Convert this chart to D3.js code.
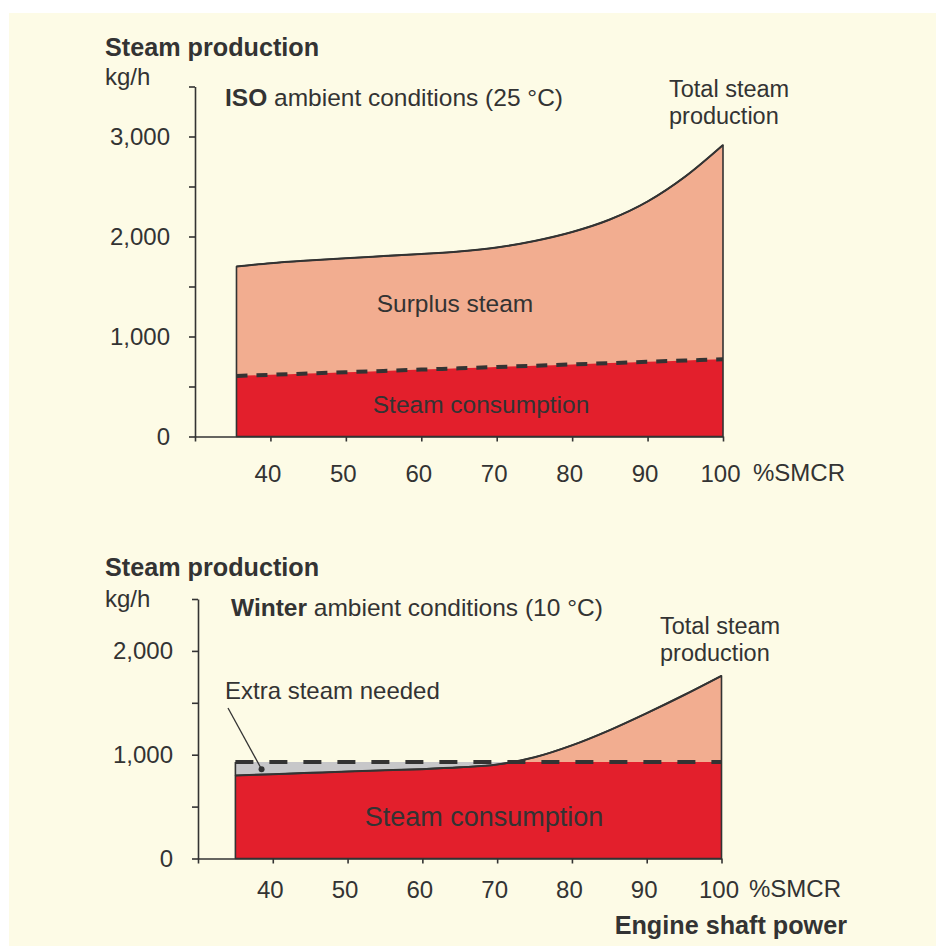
<!DOCTYPE html>
<html>
<head>
<meta charset="utf-8">
<script src="https://cdn.jsdelivr.net/npm/d3@7"></script>
<style>
  html, body { margin: 0; padding: 0; background: #fff; }
  svg { display: block; }
  text { font-family: "Liberation Sans", Arial, sans-serif; fill: #333; }
</style>
</head>
<body>
<svg id="chart" width="936" height="947"></svg>
<script>
// ---------- DATA ----------
const xTickValues = [30, 40, 50, 60, 70, 80, 90, 100];
const isoYTicks = [0, 500, 1000, 1500, 2000, 2500, 3000, 3500];
const winterYTicks = [0, 500, 1000, 1500, 2000, 2500];

const isoLoad = [35.5, 40, 45, 50, 55, 60, 65, 70, 75, 80, 85, 90, 95, 100];
const isoTotal = [1700, 1733, 1760, 1783, 1804, 1825, 1850, 1890, 1955, 2045, 2170, 2350, 2600, 2915];
const isoConsumption = [605, 617, 630, 643, 656, 669, 682, 695, 708, 721, 734, 747, 760, 772];

const winterLoad = [35, 40, 45, 50, 55, 60, 65, 70, 75, 80, 85, 90, 95, 100];
const winterTotal = [800, 812, 825, 838, 850, 861, 878, 905, 975, 1090, 1235, 1400, 1575, 1760];
const winterConsumption = [930, 930, 930, 930, 930, 930, 930, 930, 930, 930, 930, 930, 930, 930];

const extraSteamPoint = { load: 38.5, value: 860 };

// ---------- STYLE ----------
const C = {
  bg: "#FDFBE6",
  salmon: "#F2AD90",
  red: "#E31F2C",
  grey: "#C7C7C9",
  ink: "#333333"
};
const FONT = "'Liberation Sans', Arial, sans-serif";

const svg = d3.select("#chart");
svg.append("rect").attr("x", 9).attr("y", 13).attr("width", 927).attr("height", 933).attr("fill", C.bg);

function panel(opts) {
  const { id, load, total, cons, x, y, yTicks, dash, labelBaseline } = opts;
  const g = svg.append("g");
  const rows = load.map((l, i) => ({ load: l, total: total[i], cons: cons[i] }));

  const areaTotal = d3.area().curve(d3.curveMonotoneX)
    .x(d => x(d.load)).y0(y(0)).y1(d => y(d.total));
  const areaCons = d3.area().curve(d3.curveMonotoneX)
    .x(d => x(d.load)).y0(y(0)).y1(d => y(d.cons));
  const lineTotal = d3.line().curve(d3.curveMonotoneX)
    .x(d => x(d.load)).y(d => y(d.total));
  const lineCons = d3.line().curve(d3.curveMonotoneX)
    .x(d => x(d.load)).y(d => y(d.cons));

  g.append("clipPath").attr("id", id + "-clip")
    .append("path").attr("d", areaTotal(rows));

  g.append("path").attr("d", areaCons(rows)).attr("fill", C.grey);
  g.append("path").attr("d", areaTotal(rows)).attr("fill", C.salmon);
  g.append("path").attr("d", areaCons(rows)).attr("fill", C.red)
    .attr("clip-path", `url(#${id}-clip)`);

  g.append("path").attr("d", areaTotal(rows)).attr("fill", "none")
    .attr("stroke", C.ink).attr("stroke-width", 1.6).attr("stroke-linejoin", "round");
  const first = rows[0];
  if (first.cons > first.total) {
    g.append("line")
      .attr("x1", x(first.load)).attr("x2", x(first.load))
      .attr("y1", y(first.total)).attr("y2", y(first.cons))
      .attr("stroke", C.ink).attr("stroke-width", 1.6);
  }
  g.append("path").attr("d", lineTotal(rows)).attr("fill", "none")
    .attr("stroke", C.ink).attr("stroke-width", 2);
  g.append("path").attr("d", lineCons(rows)).attr("fill", "none")
    .attr("stroke", C.ink).attr("stroke-width", 4).attr("stroke-dasharray", dash);

  const xAxis = d3.axisBottom(x).tickValues(xTickValues).tickSize(5).tickSizeOuter(0)
    .tickFormat(d => d === 30 ? "" : d);
  const gx = g.append("g").attr("transform", `translate(0,${y(0)})`).call(xAxis);
  gx.selectAll("text").attr("y", labelBaseline).attr("dy", 0).attr("dx", -3)
    .style("font-family", FONT).style("font-size", "24px").attr("fill", C.ink);

  const yAxis = d3.axisLeft(y).tickValues(yTicks).tickSize(6).tickSizeOuter(0).tickPadding(19)
    .tickFormat(d => d % 1000 === 0 ? d3.format(",")(d) : "");
  const gy = g.append("g").attr("transform", `translate(${x(30)},0)`).call(yAxis);
  gy.selectAll("text").attr("dy", "0.33em")
    .style("font-family", FONT).style("font-size", "24px").attr("fill", C.ink);

  [gx, gy].forEach(a => {
    a.selectAll("path, line").attr("stroke", C.ink).attr("stroke-width", 1.6);
  });
  return g;
}

// ---------- TOP (ISO) ----------
const xIso = d3.scaleLinear().domain([30, 100]).range([195, 723]);
const yIso = d3.scaleLinear().domain([0, 3500]).range([436.5, 86.5]);
panel({ id: "iso", load: isoLoad, total: isoTotal, cons: isoConsumption,
  x: xIso, y: yIso, yTicks: isoYTicks, dash: "11,9", labelBaseline: 45 });

// ---------- BOTTOM (Winter) ----------
const xWin = d3.scaleLinear().domain([30, 100]).range([198, 721.5]);
const yWin = d3.scaleLinear().domain([0, 2500]).range([858.5, 599]);
const gWin = panel({ id: "win", load: winterLoad, total: winterTotal, cons: winterConsumption,
  x: xWin, y: yWin, yTicks: winterYTicks, dash: "18,16", labelBaseline: 39 });

// ---------- TEXT ----------
function txt(x, y, s, size, opts = {}) {
  const t = svg.append("text").attr("x", x).attr("y", y)
    .style("font-size", size + "px")
    .attr("text-anchor", opts.anchor || "start")
    .attr("font-weight", opts.bold ? "bold" : "normal")
    .attr("fill", opts.fill || C.ink);
  t.text(s);
  return t;
}
function mixed(x, y, boldPart, rest, size) {
  const t = svg.append("text").attr("x", x).attr("y", y).style("font-size", size + "px").attr("fill", C.ink);
  t.append("tspan").attr("font-weight", "bold").text(boldPart);
  t.append("tspan").text(rest);
}

// top
txt(105, 56, "Steam production", 25.2, { bold: true });
txt(105, 85, "kg/h", 24);
mixed(225, 106, "ISO", " ambient conditions (25 °C)", 24.5);
txt(669, 97, "Total steam", 23.5);
txt(669, 124, "production", 23.5);
txt(455, 312, "Surplus steam", 24.5, { anchor: "middle" });
txt(481, 413, "Steam consumption", 24.5, { anchor: "middle", fill: "#fff" });
txt(753, 481, "%SMCR", 24);

// bottom
txt(105, 576, "Steam production", 25.2, { bold: true });
txt(105, 607, "kg/h", 24);
mixed(231, 616, "Winter", " ambient conditions (10 °C)", 24.5);
txt(660, 634, "Total steam", 23.5);
txt(660, 661, "production", 23.5);
txt(225, 699, "Extra steam needed", 24);
txt(484, 826, "Steam consumption", 27, { anchor: "middle", fill: "#fff" });
txt(749, 897, "%SMCR", 24);
txt(847, 934, "Engine shaft power", 25.2, { bold: true, anchor: "end" });

// annotation leader
const ax = xWin(extraSteamPoint.load), ay = yWin(extraSteamPoint.value);
gWin.append("line").attr("x1", 228).attr("y1", 708).attr("x2", ax).attr("y2", ay)
  .attr("stroke", C.ink).attr("stroke-width", 1.3);
gWin.append("circle").attr("cx", ax).attr("cy", ay).attr("r", 3).attr("fill", C.ink);
</script>
</body>
</html>
